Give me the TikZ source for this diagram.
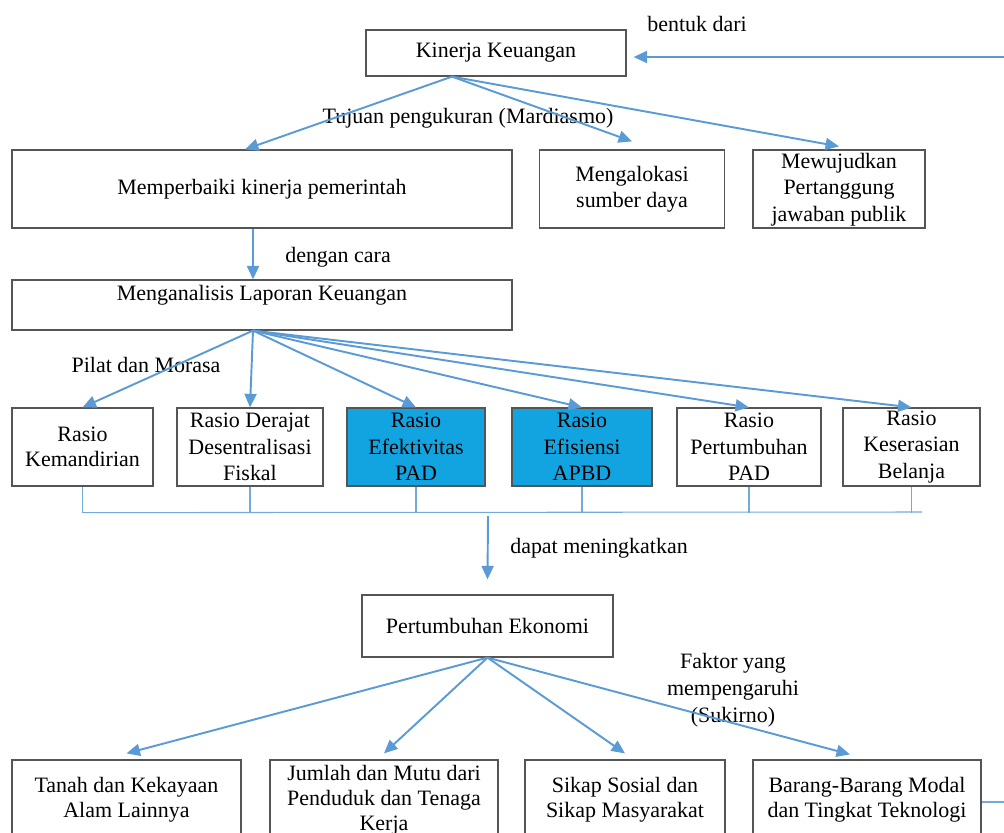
\documentclass[tikz,border=0pt]{standalone}
\usepackage{fontspec}
\setmainfont{Liberation Serif}
\usetikzlibrary{arrows.meta}

\definecolor{lineblue}{RGB}{91,155,213}
\definecolor{fillblue}{RGB}{18,164,224}
\definecolor{boxgray}{RGB}{85,85,85}

\tikzset{
  box/.style={draw=boxgray,line width=.7pt,align=center,inner sep=0pt,text=black,
              font=\fontsize{12.5}{15}\selectfont},
  conn/.style={lineblue,line width=1.1pt,-{Triangle[length=.27cm,width=.24cm]}},
  tie/.style={lineblue!85,line width=.6pt},
  lbl/.style={align=center,text=black,font=\fontsize{12.5}{15.5}\selectfont}
}

\begin{document}
\begin{tikzpicture}[x=.02cm,y=-.02cm]

\useasboundingbox (0,0) rectangle (1004,832);
\clip (0,0) rectangle (1004,832);

% kinerja
                    \node[box,minimum width=5.2cm,minimum height=.92cm] (KINERJA) at (496,53) {Kinerja Keuangan}; % 0
                    \node[lbl] (BENTUK) at (697,24) {bentuk dari};
                    \node[lbl] (TUJUAN) at (468,118) {Tujuan pengukuran (Mardiasmo)};

                    % 1
                    \node[box,minimum width=10cm,minimum height=1.56cm] (PERBAIKI) at (262,189) {Memperbaiki kinerja pemerintah};
                    % 2
                    \node[box,minimum width=3.7cm,minimum height=1.56cm] (ALOKASI) at (632,189) {Mengalokasi\\sumber daya};
                    % 3
                    \node[box,minimum width=3.44cm,minimum height=1.56cm,text depth=2pt] (WUJUD) at (839,189) {Mewujudkan\\Pertanggung\\jawaban publik};

                    \coordinate (KANAN) at (1004,57);
                    \draw[conn,shorten >=.14cm] (KANAN) -- (KINERJA.east |- KANAN);
                    \coordinate (KFAN) at ([xshift=-.88cm]KINERJA.south);
                    \draw[conn] (KFAN) -- ([xshift=-.34cm]PERBAIKI.north);
                    \draw[conn] (KFAN) -- ([yshift=.16cm]ALOKASI.north);
                    \draw[conn] (KFAN) -- ([yshift=.06cm]WUJUD.north);

%%%%%%%%%%%%%%%%%%%%%%%%%%%%%%%%%%%%%%%%%%%%%%%%%%%%%%%%%%%%%%%%%%%%%%%%%%%%%%%%%%%%

% laporan keuangan
                    \node[box,minimum width=10cm,minimum height=1cm,text height=9pt,text depth=14pt] (ANALISIS) at (262,305) {Menganalisis Laporan Keuangan};
                    \node[lbl] (CARA) at (338,257) {dengan cara};
                    \node[lbl] (PILAT) at (146,365) {Pilat dan Morasa};
                    \draw[conn] ([xshift=-.18cm]PERBAIKI.south) -- ([xshift=-.18cm]ANALISIS.north);

                    % rasio
                    \node[box,minimum width=2.82cm,minimum height=1.56cm,font=\fontsize{12.5}{14.2}\selectfont] (MANDIRI) at (82.5,447) {Rasio\\Kemandirian}; % 1
                    \node[box,minimum width=2.92cm,minimum height=1.56cm] (DERAJAT) at (250,447) {Rasio Derajat\\Desentralisasi\\Fiskal}; % 2
                    \node[box,fill=fillblue,minimum width=2.76cm,minimum height=1.56cm] (EFEKTIF) at (416,447) {Rasio\\Efektivitas\\PAD}; % 3
                    \node[box,fill=fillblue,minimum width=2.8cm,minimum height=1.56cm] (EFISIEN) at (582,447) {Rasio\\Efisiensi\\APBD}; % 4
                    \node[box,minimum width=2.88cm,minimum height=1.56cm] (TUMBUH) at (749,447) {Rasio\\Pertumbuhan\\PAD}; % 5
                    \node[box,minimum width=2.74cm,minimum height=1.56cm] (SERASI) at (911.5,447) {Rasio\\Keserasian\\Belanja}; % 6

                    \coordinate (AFAN) at ([xshift=-.18cm]ANALISIS.south);
                    \coordinate (BKIRI) at ([yshift=-.52cm]MANDIRI.south);
                    \coordinate (BKANAN) at (922,512);
                    \foreach \r in {MANDIRI,DERAJAT,EFEKTIF,EFISIEN,TUMBUH,SERASI} {
                      \draw[conn] (AFAN) -- (\r.north);
                      \draw[tie] (\r.south) -- (\r.south |- BKIRI);
                    }
                    \draw[tie] (BKIRI) -- (BKANAN);

%%%%%%%%%%%%%%%%%%%%%%%%%%%%%%%%%%%%%%%%%%%%%%%%%%%%%%%%%%%%%%%%%%%%%%%%%%%%%%%%%%%%

% pertumbuhan ekonomi
                    \node[box,minimum width=5.02cm,minimum height=1.24cm] (EKONOMI) at (487.5,626) {Pertumbuhan Ekonomi};
                    \node[lbl] (DAPAT) at (599,548) {dapat meningkatkan};
                    \node[lbl] (FAKTOR) at (733,690) {Faktor yang\\mempengaruhi\\(Sukirno)};
                    \coordinate (BTENGAH) at (488,516);
                    \draw[conn] (BTENGAH) -- ([yshift=.3cm]EKONOMI.north);

                    % faktor
                    \node[box,minimum width=4.58cm,minimum height=1.6cm,font=\fontsize{12.5}{14.2}\selectfont] (TANAH) at (126.5,800) {Tanah dan Kekayaan\\Alam Lainnya}; % 1
                    \node[box,minimum width=4.56cm,minimum height=1.6cm,font=\fontsize{12.5}{14.2}\selectfont] (PENDUDUK) at (384,800) {Jumlah dan Mutu dari\\Penduduk dan Tenaga\\Kerja}; % 2
                    \node[box,minimum width=4cm,minimum height=1.6cm,font=\fontsize{12.5}{14.2}\selectfont] (SIKAP) at (625,800) {Sikap Sosial dan\\Sikap Masyarakat}; % 3
                    \node[box,minimum width=4.56cm,minimum height=1.6cm,font=\fontsize{12.5}{14.2}\selectfont] (MODAL) at (867,800) {Barang-Barang Modal\\dan Tingkat Teknologi}; % 4

                    \foreach \b in {TANAH,PENDUDUK,SIKAP}
                      \draw[conn] (EKONOMI.south) -- ([yshift=.12cm]\b.north);
                    \draw[conn] (EKONOMI.south) -- ([xshift=-.34cm,yshift=.1cm]MODAL.north);

                    \coordinate (KANANB) at (1004,802);
                    \draw[tie,line width=.8pt] (MODAL.east |- KANANB) -- (KANANB);

\end{tikzpicture}
\end{document}
